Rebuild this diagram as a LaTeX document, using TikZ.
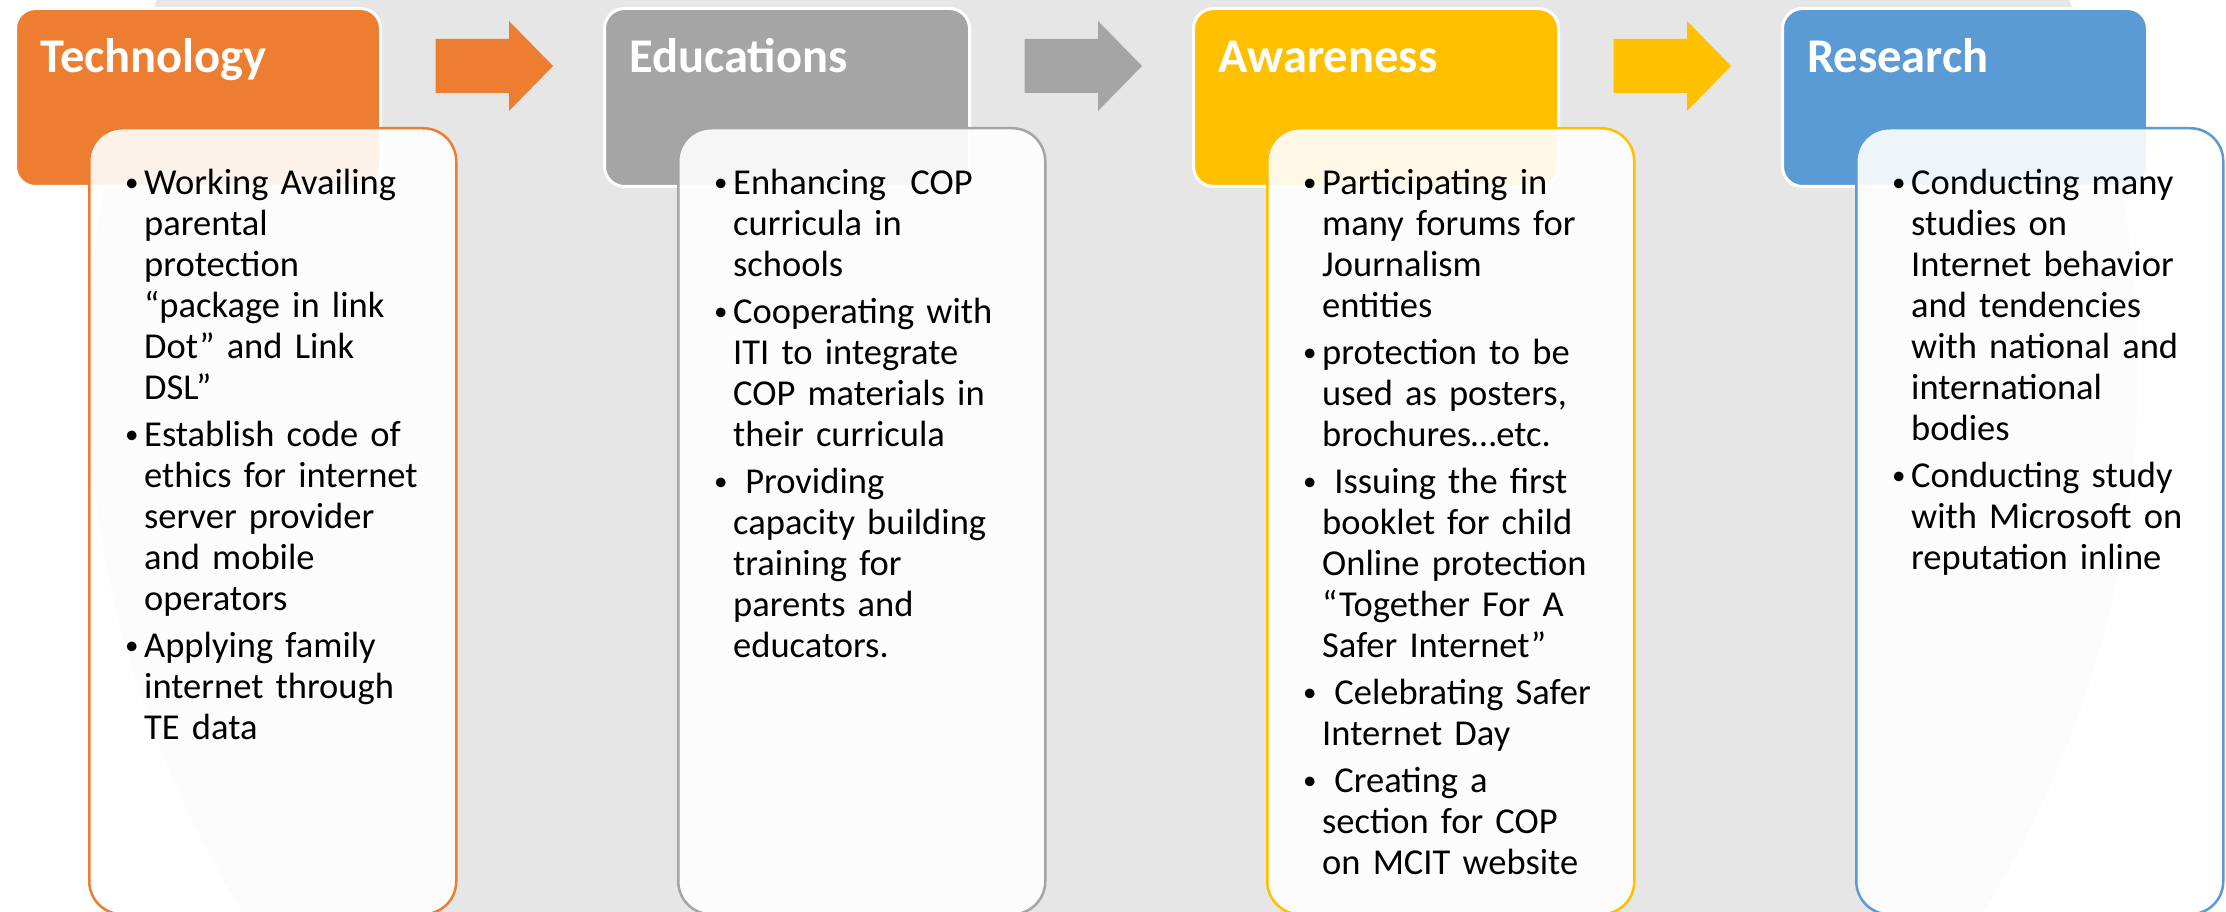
\documentclass[tikz,border=0pt]{standalone}
\usepackage{fontspec}
\setmainfont{Carlito}
\usetikzlibrary{calc}
\definecolor{cOrange}{HTML}{ED7D31}
\definecolor{cGrey}{HTML}{A5A5A5}
\definecolor{cGold}{HTML}{FFC000}
\definecolor{cBlue}{HTML}{5B9BD5}
\definecolor{bgGrey}{HTML}{E6E6E6}
\newcommand{\bitem}[1]{\par\hangindent=20pt\hangafter=1\noindent\makebox[20pt][l]{\hspace{1pt}\raisebox{2.8pt}{\fontsize{27}{27}\selectfont\textbullet}}\strut#1}
\begin{document}
\begin{tikzpicture}[x=1pt,y=-1pt,
  hdr/.style={draw=white, line width=3pt, rounded corners=20pt, minimum width=365pt, minimum height=178pt, inner sep=0pt, anchor=north west},
  card/.style={line width=2.5pt, fill=white, fill opacity=0.9, rounded corners=33pt, minimum width=367pt, minimum height=786pt, inner sep=0pt, anchor=north west},
  ttl/.style={text=white, font=\fontsize{48.5}{52}\selectfont\bfseries, anchor=base west, inner sep=0pt},
  body/.style={font=\fontsize{36.5}{41}\selectfont, text width=345pt, align=left, anchor=north west, inner sep=0pt, execute at begin node={\setlength{\parskip}{6pt}}}
]
\useasboundingbox (0,0) rectangle (2226,912);
\fill[white] (0,0) rectangle (2226,912);
\begin{scope}
  \clip (0,0) rectangle (2226,912);
  \fill[bgGrey] (1113,370) circle (1025pt);
\end{scope}

% arrows
\fill[cOrange] (435.5,39) -- (509,39) -- (509,21) -- (553,66) -- (509,111) -- (509,93) -- (435.5,93) -- cycle;
\fill[cGrey] (1024.5,39) -- (1098,39) -- (1098,21) -- (1142,66) -- (1098,111) -- (1098,93) -- (1024.5,93) -- cycle;
\fill[cGold] (1613.5,39) -- (1687,39) -- (1687,21) -- (1731,66) -- (1687,111) -- (1687,93) -- (1613.5,93) -- cycle;

% headers
\node[hdr, fill=cOrange] (h1) at (14,7) {};
\node[hdr, fill=cGrey] (h2) at (603,7) {};
\node[hdr, fill=cGold] (h3) at (1192,7) {};
\node[hdr, fill=cBlue] (h4) at (1781,7) {};

\node[ttl] (t1) at (40,73) {Technology};
\node[ttl] (t2) at (629,73) {Educations};
\node[ttl] (t3) at (1218,73) {Awareness};
\node[ttl] (t4) at (1807,73) {Research};

% cards
\node[card, draw=cOrange] (c1) at (88,127) {};
\node[card, draw=cGrey] (c2) at (677,127) {};
\node[card, draw=cGold] (c3) at (1266,127) {};
\node[card, draw=cBlue] (c4) at (1855,127) {};

% body texts
\node[body] (b1) at ($(c1.north west)+(36,20)$) {%
\bitem{Working Availing\newline parental\newline protection\newline “package in link\newline Dot” and Link\newline DSL”}
\bitem{Establish code of\newline ethics for internet\newline server provider\newline and mobile\newline operators}
\bitem{Applying family\newline internet through\newline TE data}\par};

\node[body] (b2) at ($(c2.north west)+(36,20)$) {%
\bitem{Enhancing\ \ COP\newline curricula in\newline schools}
\bitem{Cooperating with\newline ITI to integrate\newline COP materials in\newline their curricula}
\bitem{\ Providing\newline capacity building\newline training for\newline parents and\newline educators.}\par};

\node[body] (b3) at ($(c3.north west)+(36,20)$) {%
\bitem{Participating in\newline many forums for\newline Journalism\newline entities}
\bitem{protection to be\newline used as posters,\newline brochures…etc.}
\bitem{\ Issuing the first\newline booklet for child\newline Online protection\newline “Together For A\newline Safer Internet”}
\bitem{\ Celebrating Safer\newline Internet Day}
\bitem{\ Creating a\newline section for COP\newline on MCIT website}\par};

\node[body] (b4) at ($(c4.north west)+(36,20)$) {%
\bitem{Conducting many\newline studies on\newline Internet behavior\newline and tendencies\newline with national and\newline international\newline bodies}
\bitem{Conducting study\newline with Microsoft on\newline reputation inline}\par};
\end{tikzpicture}
\end{document}
